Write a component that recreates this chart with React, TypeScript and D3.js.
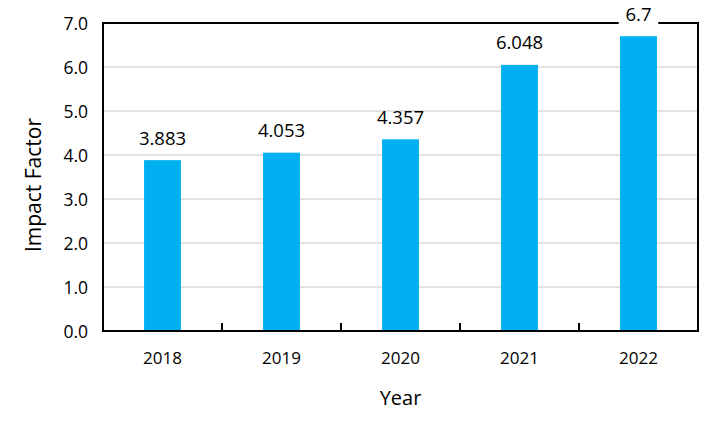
import * as d3 from "d3";

const years = ["2018", "2019", "2020", "2021", "2022"];
const impactFactor = [3.883, 4.053, 4.357, 6.048, 6.7];
const yTicks = [0, 1, 2, 3, 4, 5, 6, 7];

const width = 720;
const height = 432;
const margin = { top: 23, right: 22, bottom: 101, left: 103 };
const font = "'Open Sans', sans-serif";

export default function App() {
  const x = d3
    .scaleBand()
    .domain(years)
    .range([margin.left, width - margin.right]);
  const y = d3
    .scaleLinear()
    .domain([0, 7])
    .range([height - margin.bottom, margin.top]);
  const barW = x.bandwidth() * 0.31;
  const x0 = margin.left;
  const x1 = width - margin.right;
  const y0 = y(0);
  const y1 = y(7);

  return (
    <svg
      width={width}
      height={height}
      style={{ position: "absolute", left: 0, top: 0, background: "#fff" }}
      fontFamily={font}
    >
      {yTicks.slice(1, -1).map((t) => (
        <line key={t} x1={x0} x2={x1} y1={y(t)} y2={y(t)} stroke="#d9d9d9" strokeWidth={1.5} />
      ))}
      {years.map((yr, i) => (
        <rect
          key={yr}
          x={x(yr)! + x.bandwidth() / 2 - barW / 2}
          y={y(impactFactor[i])}
          width={barW}
          height={y0 - y(impactFactor[i])}
          fill="#00b0f0"
        />
      ))}
      <rect x={x0} y={y1} width={x1 - x0} height={y0 - y1} fill="none" stroke="#000" strokeWidth={2} />
      {years.slice(1).map((yr) => (
        <line key={yr} x1={x(yr)} x2={x(yr)} y1={y0} y2={y0 - 8} stroke="#000" strokeWidth={2} />
      ))}
      {years.map((yr, i) => {
        const cx = x(yr)! + x.bandwidth() / 2;
        const cy = y(impactFactor[i]) - 23;
        const label = String(impactFactor[i]);
        const w = label.length * 10.5 + 8;
        return (
          <g key={yr}>
            {cy < y1 + 12 && <rect x={cx - w / 2} y={cy - 12} width={w} height={24} fill="#fff" />}
            <text x={cx} y={cy} textAnchor="middle" dominantBaseline="central" fontSize={18.5} fill="#000">
              {label}
            </text>
          </g>
        );
      })}
      {yTicks.map((t) => (
        <text key={t} x={88} y={y(t)} textAnchor="end" dominantBaseline="central" fontSize={17.5} fill="#000">
          {t.toFixed(1)}
        </text>
      ))}
      {years.map((yr) => (
        <text
          key={yr}
          x={x(yr)! + x.bandwidth() / 2}
          y={357}
          textAnchor="middle"
          dominantBaseline="central"
          fontSize={17}
          fill="#000"
        >
          {yr}
        </text>
      ))}
      <text x={(x0 + x1) / 2} y={397} textAnchor="middle" dominantBaseline="central" fontSize={20} fill="#000">
        Year
      </text>
      <text
        transform={`translate(33,${(y0 + y1) / 2 + 8}) rotate(-90)`}
        textAnchor="middle"
        dominantBaseline="central"
        fontSize={21}
        fill="#000"
      >
        Impact Factor
      </text>
    </svg>
  );
}
